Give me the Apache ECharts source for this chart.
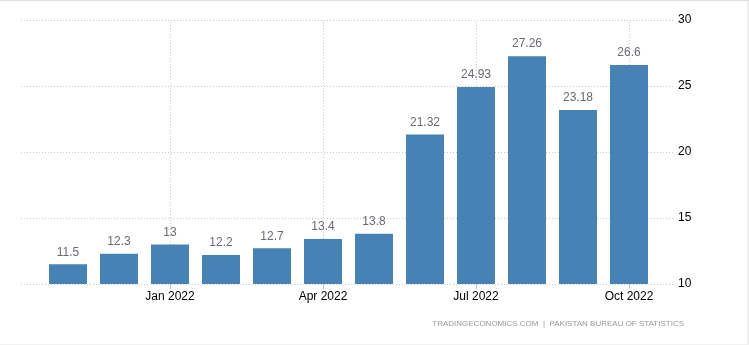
<!DOCTYPE html>
<html><head><meta charset="utf-8">
<script src="https://cdn.jsdelivr.net/npm/echarts@6/dist/echarts.min.js"></script>
<style>
html,body{margin:0;padding:0;background:#fff;}
#wrap{position:relative;width:749px;height:345px;}
#c{width:749px;height:345px;}
#frame{position:absolute;left:0;top:0;width:749px;height:345px;box-sizing:border-box;border-top:1px solid #ddd;border-right:2px solid #eee;border-bottom:1px solid #f2f2f2;pointer-events:none;}
</style></head><body>
<div id="wrap"><div id="c"></div><div id="frame"></div></div>
<script>
var categories = ['Nov 2021','Dec 2021','Jan 2022','Feb 2022','Mar 2022','Apr 2022','May 2022','Jun 2022','Jul 2022','Aug 2022','Sep 2022','Oct 2022'];
var values = [11.5, 12.3, 13, 12.2, 12.7, 13.4, 13.8, 21.32, 24.93, 27.26, 23.18, 26.6];
var labelIdx = [2, 5, 8, 11];
var yTicks = [10, 15, 20, 25, 30];

var chart = echarts.init(document.getElementById('c'), null, {renderer:'canvas'});
var font = 'Liberation Sans, Arial, sans-serif';
chart.setOption({
  animation:false,
  grid:[
    {left:21, right:74, top:20, bottom:61},
    {left:42.5, right:94.5, top:20, bottom:61}
  ],
  xAxis:[
    {gridIndex:0, type:'value', show:false, min:0, max:1},
    {gridIndex:1, type:'category', data:categories,
     axisLine:{show:false},
     axisTick:{show:true, alignWithLabel:true, length:5, lineStyle:{color:'#c8c8c8'}, interval:function(i){return labelIdx.indexOf(i)>=0;}},
     axisLabel:{interval:function(i){return labelIdx.indexOf(i)>=0;}, color:'#000', fontSize:12, fontFamily:font, margin:7},
     splitLine:{show:false}}
  ],
  yAxis:[
    {gridIndex:0, type:'value', position:'right', min:yTicks[0], max:yTicks[yTicks.length-1], interval:5,
     axisLine:{show:false}, axisTick:{show:false},
     axisLabel:{color:'#000', fontSize:12, fontFamily:font, margin:3},
     splitLine:{show:true, lineStyle:{color:'#c8c8c8', type:[1,2], width:1}}},
    {gridIndex:1, type:'value', min:yTicks[0], max:yTicks[yTicks.length-1], show:false}
  ],
  series:[{
    type:'bar', xAxisIndex:1, yAxisIndex:1, data:values, barWidth:38,
    itemStyle:{color:'#4682b4'},
    label:{show:true, position:'top', distance:6, color:'#6a6a74', fontSize:12, fontFamily:font},
    markLine:{
      silent:true, symbol:'none', label:{show:false},
      lineStyle:{color:'#c8c8c8', type:[1,2], width:1},
      data: labelIdx.map(function(i){return {xAxis: categories[i]};}),
      z:0
    },
    z:2
  }],
  graphic:[{
    type:'text', right:65, top:320,
    style:{text:'TRADINGECONOMICS.COM  |  PAKISTAN BUREAU OF STATISTICS', fill:'#999', fontSize:8, fontFamily:font}
  }]
});
</script>
</body></html>
